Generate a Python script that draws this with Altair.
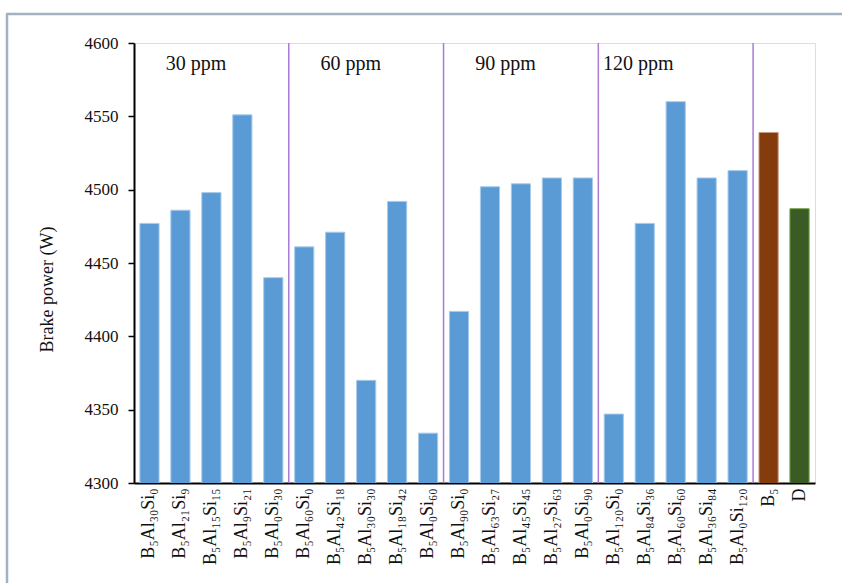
import altair as alt
import pandas as pd

# Fuel samples (boron 5 ppm with Al/Si nanoparticle ratios), plus B5 and diesel references
samples = [
    "B₅Al₃₀Si₀", "B₅Al₂₁Si₉", "B₅Al₁₅Si₁₅", "B₅Al₉Si₂₁", "B₅Al₀Si₃₀",
    "B₅Al₆₀Si₀", "B₅Al₄₂Si₁₈", "B₅Al₃₀Si₃₀", "B₅Al₁₈Si₄₂", "B₅Al₀Si₆₀",
    "B₅Al₉₀Si₀", "B₅Al₆₃Si₂₇", "B₅Al₄₅Si₄₅", "B₅Al₂₇Si₆₃", "B₅Al₀Si₉₀",
    "B₅Al₁₂₀Si₀", "B₅Al₈₄Si₃₆", "B₅Al₆₀Si₆₀", "B₅Al₃₆Si₈₄", "B₅Al₀Si₁₂₀",
    "B₅", "D",
]
brake_power = [
    4477, 4486, 4498, 4551, 4440,
    4461, 4471, 4370, 4492, 4334,
    4417, 4502, 4504, 4508, 4508,
    4347, 4477, 4560, 4508, 4513,
    4539, 4487,
]
kind = ["blend"] * 20 + ["B5", "D"]

# Dosage groups: label text and the sample each label sits at
group_labels = ["30 ppm", "60 ppm", "90 ppm"]
group_label_at = ["B₅Al₁₅Si₁₅", "B₅Al₃₀Si₃₀", "B₅Al₄₅Si₄₅"]
last_label = "120 ppm"
last_label_at = "B₅Al₆₀Si₆₀"
# First sample of each following group (divider drawn at its left edge)
divider_at = ["B₅Al₆₀Si₀", "B₅Al₉₀Si₀", "B₅Al₁₂₀Si₀", "B₅"]

df = pd.DataFrame({"sample": samples, "power": brake_power, "kind": kind})
df_lab = pd.DataFrame({"sample": group_label_at, "text": group_labels})
df_last = pd.DataFrame({"sample": [last_label_at], "text": [last_label]})
df_div = pd.DataFrame({"sample": divider_at})
one = pd.DataFrame({"k": [0]})

FONT = "Liberation Serif"

x_scale = alt.Scale(domain=samples, paddingInner=0, paddingOuter=0)
y_scale = alt.Scale(domain=[4300, 4600], nice=False, zero=False)

x_enc = alt.X(
    "sample:N", sort=None, scale=x_scale,
    axis=alt.Axis(
        title=None, labelAngle=-90, labelFont=FONT, labelFontSize=18,
        labelColor="#111", labelPadding=5, ticks=False,
        domainColor="#000", domainWidth=2, labelLimit=200,
    ),
)
y_enc = alt.Y(
    "power:Q", scale=y_scale,
    axis=alt.Axis(
        title="Brake power (W)", values=list(range(4300, 4601, 50)), format="d",
        labelFont=FONT, labelFontSize=17, labelColor="#111", labelPadding=10,
        tickSize=6, tickColor="#000", tickWidth=1.5,
        domainColor="#000", domainWidth=2, grid=False,
        titleFont=FONT, titleFontSize=18, titleFontWeight="normal",
        titleColor="#111", titlePadding=28, titleY=246,
    ),
)

bars = alt.Chart(df).mark_bar(
    width=alt.RelativeBandSize(0.62), strokeWidth=1, clip=True
).encode(
    x=x_enc,
    y=y_enc,
    color=alt.Color("kind:N", scale=alt.Scale(domain=["blend", "B5", "D"],
                                              range=["#5B9BD5", "#843C0C", "#3A5C24"]),
                    legend=None),
    stroke=alt.Stroke("kind:N", scale=alt.Scale(domain=["blend", "B5", "D"],
                                                range=["#A8CBEB", "#C99A80", "#6FA346"]),
                      legend=None),
)

dividers = alt.Chart(df_div).mark_rule(color="#A97AD8", strokeWidth=1.5).encode(
    x=alt.X("sample:N", sort=None, scale=x_scale, bandPosition=0),
    y=alt.value(0),
    y2=alt.value(440),
)

labels = alt.Chart(df_lab).mark_text(
    font=FONT, fontSize=20, color="#111", baseline="alphabetic", align="center"
).encode(
    x=alt.X("sample:N", sort=None, scale=x_scale, bandPosition=0),
    y=alt.value(27),
    text="text:N",
)

label_last = alt.Chart(df_last).mark_text(
    font=FONT, fontSize=20, color="#111", baseline="alphabetic", align="center", dx=-22
).encode(
    x=alt.X("sample:N", sort=None, scale=x_scale, bandPosition=0),
    y=alt.value(27),
    text="text:N",
)

# Outer gray frame around the figure (top and left edges)
frame_left = alt.Chart(one).mark_rule(color="#A3B2C2", strokeWidth=2.5).encode(
    x=alt.value(-127), y=alt.value(-29), y2=alt.value(560)
)
frame_top = alt.Chart(one).mark_rule(color="#A3B2C2", strokeWidth=2.5).encode(
    x=alt.value(-128), x2=alt.value(720), y=alt.value(-29)
)

chart = alt.layer(frame_left, frame_top, bars, dividers, labels, label_last).properties(
    width=681, height=440,
    autosize=alt.AutoSizeParams(type="none"),
    padding={"left": 134, "top": 43, "right": 27, "bottom": 100},
).configure_view(
    stroke="#2A2F3A", strokeWidth=1.5,
).configure(background="white")

chart.save("out.html", embed_options={"renderer": "svg", "actions": False})
